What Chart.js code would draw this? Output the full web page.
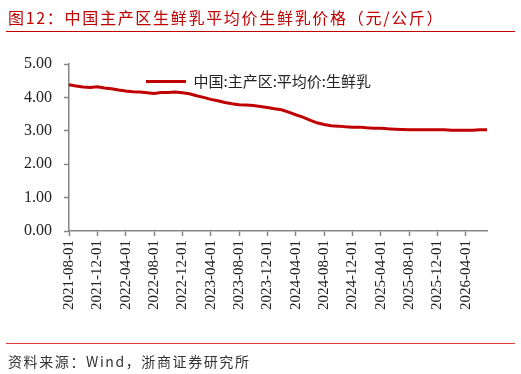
<!DOCTYPE html>
<html>
<head>
<meta charset="utf-8">
<script src="https://cdn.jsdelivr.net/npm/chart.js@4.4.1/dist/chart.umd.min.js"></script>
<style>
  html, body { margin: 0; padding: 0; background: #fff; }
  #wrap { position: relative; width: 521px; height: 374px; overflow: hidden; }
  #chartBox { position: absolute; left: 0; top: 0; width: 521px; height: 374px; }
  .title {
    position: absolute; left: 8px; top: 5px;
    font-family: "Noto Sans CJK SC", sans-serif; font-size: 16px; letter-spacing: 1.7px;
    color: #c00000; white-space: nowrap;
  }
  .rule-top { position: absolute; left: 6px; top: 31px; width: 509px; height: 1px; background: #c00000; }
  .rule-bot { position: absolute; left: 6px; top: 343px; width: 509px; height: 1px; background: #e03a3a; }
  .source {
    position: absolute; left: 8px; top: 351px;
    font-family: "Noto Sans CJK SC", sans-serif; font-size: 14px; letter-spacing: 1.6px;
    color: #333; white-space: nowrap;
  }
</style>
</head>
<body>
<div id="wrap">
  <div id="chartBox"><canvas id="grafico"></canvas></div>
  <div class="title">图12：中国主产区生鲜乳平均价生鲜乳价格（元/公斤）</div>
  <div class="rule-top"></div>
  <div class="rule-bot"></div>
  <div class="source">资料来源：Wind，浙商证券研究所</div>
</div>
<script>
// Meses (categorias del eje X)
const meses = [
  "2021-08-01","2021-09-01","2021-10-01","2021-11-01","2021-12-01","2022-01-01","2022-02-01","2022-03-01",
  "2022-04-01","2022-05-01","2022-06-01","2022-07-01","2022-08-01","2022-09-01","2022-10-01","2022-11-01",
  "2022-12-01","2023-01-01","2023-02-01","2023-03-01","2023-04-01","2023-05-01","2023-06-01","2023-07-01",
  "2023-08-01","2023-09-01","2023-10-01","2023-11-01","2023-12-01","2024-01-01","2024-02-01","2024-03-01",
  "2024-04-01","2024-05-01","2024-06-01","2024-07-01","2024-08-01","2024-09-01","2024-10-01","2024-11-01",
  "2024-12-01","2025-01-01","2025-02-01","2025-03-01","2025-04-01","2025-05-01","2025-06-01","2025-07-01",
  "2025-08-01","2025-09-01","2025-10-01","2025-11-01","2025-12-01","2026-01-01","2026-02-01","2026-03-01",
  "2026-04-01","2026-05-01","2026-06-01","2026-07-01"
];

// Precio del生鲜乳 (元/公斤)
const precio = [
  4.38, 4.34, 4.31, 4.30, 4.32, 4.28, 4.26, 4.22,
  4.19, 4.17, 4.16, 4.14, 4.12, 4.15, 4.15, 4.16,
  4.14, 4.11, 4.05, 4.00, 3.94, 3.90, 3.85, 3.81,
  3.78, 3.77, 3.76, 3.73, 3.70, 3.66, 3.63, 3.56,
  3.48, 3.41, 3.32, 3.24, 3.19, 3.15, 3.14, 3.12,
  3.11, 3.11, 3.09, 3.08, 3.08, 3.06, 3.05, 3.04,
  3.03, 3.03, 3.03, 3.03, 3.03, 3.03, 3.02, 3.02,
  3.02, 3.02, 3.03, 3.03
];

const nombreSerie = "中国:主产区:平均价:生鲜乳";
const ticksY = [0, 1, 2, 3, 4, 5];

const gris = "#868686";
const fuenteEje = { family: "'Liberation Serif', 'Times New Roman', serif", size: 15 };

// Mover la leyenda dentro del area del grafico (como en el original)
const moverLeyenda = {
  id: "moverLeyenda",
  afterLayout(chart) {
    const lg = chart.legend;
    if (!lg) return;
    const ca = chart.chartArea;
    const w = lg.width, h = lg.height;
    lg.left = ca.left + 67;
    lg.right = lg.left + w;
    lg.top = ca.top;
    lg.bottom = ca.top + h;
  }
};

new Chart(document.getElementById("grafico"), {
  type: "line",
  data: {
    labels: meses,
    datasets: [{
      label: nombreSerie,
      data: precio,
      borderColor: "#c00000",
      backgroundColor: "#c00000",
      borderWidth: 3,
      pointRadius: 0,
      tension: 0
    }]
  },
  plugins: [moverLeyenda],
  options: {
    responsive: true,
    maintainAspectRatio: false,
    animation: false,
    layout: { padding: { top: 64, left: 12, right: 34, bottom: 60 } },
    plugins: {
      tooltip: { enabled: false },
      legend: {
        position: "chartArea",
        align: "start",
        labels: {
          usePointStyle: true,
          pointStyle: "line",
          pointStyleWidth: 40,
          color: "#222",
          font: { family: "'Noto Sans CJK SC', sans-serif", size: 15 },
          padding: 10
        }
      }
    },
    scales: {
      x: {
        offset: false,
        border: { color: gris, width: 1.5 },
        grid: {
          drawOnChartArea: false,
          tickLength: 5,
          tickWidth: 1.5,
          // Solo una marca cada 4 meses
          tickColor: ctx => (ctx.index % 4 === 0 ? gris : "rgba(0,0,0,0)")
        },
        ticks: {
          autoSkip: false,
          minRotation: 90,
          maxRotation: 90,
          color: "#222",
          font: fuenteEje,
          padding: 4,
          callback: function(value, index) {
            return index % 4 === 0 ? this.getLabelForValue(value) : "";
          }
        }
      },
      y: {
        min: ticksY[0],
        max: ticksY[ticksY.length - 1],
        border: { color: gris, width: 1.5 },
        grid: { drawOnChartArea: false, tickLength: 5, tickWidth: 1.5, tickColor: gris },
        afterBuildTicks: axis => { axis.ticks = ticksY.map(v => ({ value: v })); },
        ticks: {
          color: "#222",
          font: { family: fuenteEje.family, size: 16 },
          padding: 12,
          callback: value => Number(value).toFixed(2)
        }
      }
    }
  }
});
</script>
</body>
</html>
